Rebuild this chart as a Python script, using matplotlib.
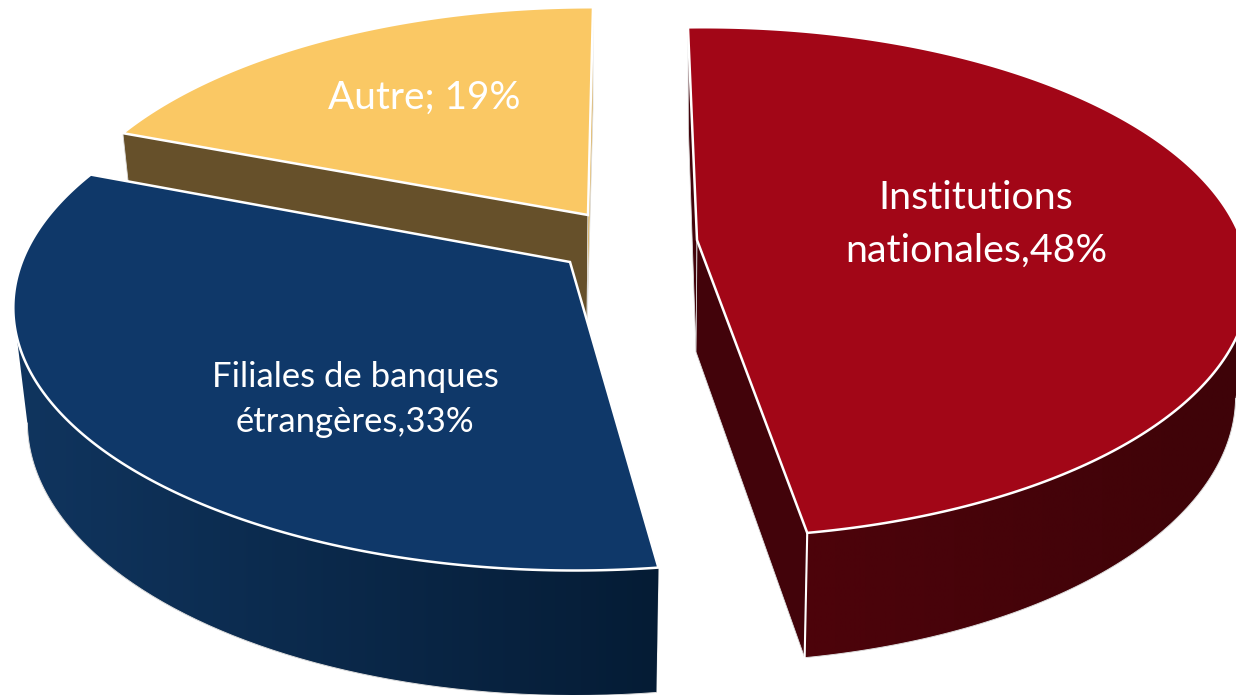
import numpy as np
import matplotlib
matplotlib.use("Agg")
import matplotlib.pyplot as plt
from matplotlib.patches import Polygon
from matplotlib.colors import to_rgb

# Data
categories = ["Institutions nationales", "Filiales de banques étrangères", "Autre"]
values = [48, 33, 19]
labels = ["Institutions\nnationales,48%", "Filiales de banques\nétrangères,33%", "Autre; 19%"]

# Style, one entry per slice
top_colors = ["#a20617", "#0f3869", "#fac864"]
cut_start = ["#42030a", "#0c2c50", "#66502a"]
cut_end = ["#42030a", "#0c2c50", "#e0b050"]
side_left = ["#4d030b", "#10355f", "#66502a"]
side_right = ["#3e0308", "#051c35", "#66502a"]
centers = [(697, 240), (570, 262), (588, 215)]
rim_shift = [(7, -1), (5, 1), (5, 4)]
scales = [0.995, 1.025, 0.995]
rotations = [-2.0, 0.0, 0.0]
label_pos = [(976, 224.5), (355, 399.5), (424, 98)]
label_size = [28.4, 24.9, 27.9]
label_gap = [1.57, 1.52, 1.2]

# Projection of the tilted pie
RX = 540
RY = 249
PERSP = 0.17
DEPTH = 112
PERSP_D = 0.104
SHRINK = 0.975


def project(cx, cy, ang, s, z=0):
    # ang in degrees, clockwise from the back of the pie
    a = np.radians(ang)
    px = np.sin(a)
    py = np.cos(a)
    w = 1 + PERSP * py
    dx = s * RX * px / w
    dy = -s * RY * py / w
    if z:
        dx = dx * SHRINK
        dy = dy + DEPTH / (1 + PERSP_D * py)
    return cx + dx, cy + dy


fig = plt.figure(figsize=(12.36, 6.95), dpi=100)
ax = fig.add_axes([0, 0, 1, 1])

# start angle of each slice from the values
fracs = np.array(values) / sum(values) * 360
starts = np.concatenate([[0], np.cumsum(fracs)[:-1]])

# back to front: Autre, Filiales, Institutions
for i in [2, 1, 0]:
    vx, vy = centers[i]
    cx = vx + rim_shift[i][0]
    cy = vy + rim_shift[i][1]
    a0 = starts[i] + rotations[i]
    a1 = a0 + fracs[i]
    angs = np.linspace(a0, a1, 241)
    s = scales[i]
    x_top, y_top = project(cx, cy, angs, s)
    x_low, y_low = project(cx, cy, angs, s, z=1)
    lx, ly = vx - 1, vy + DEPTH
    base = i * -10

    # cut faces
    pts = [(vx, vy), (x_top[0], y_top[0]), (x_low[0], y_low[0]), (lx, ly)]
    ax.add_patch(Polygon(pts, closed=True, facecolor=cut_start[i], edgecolor="#dddddd",
                         linewidth=0.6, zorder=base + 1))
    pts = [(vx, vy), (x_top[-1], y_top[-1]), (x_low[-1], y_low[-1]), (lx, ly)]
    ax.add_patch(Polygon(pts, closed=True, facecolor=cut_end[i], edgecolor="#dddddd",
                         linewidth=0.6, zorder=base + 1))

    # outer wall, only the part that faces the viewer
    front = np.cos(np.radians(angs)) <= -PERSP
    if front.any():
        pts = list(zip(x_top[front], y_top[front])) + list(zip(x_low[front][::-1], y_low[front][::-1]))
        wall = Polygon(pts, closed=True, facecolor="none", edgecolor="none", zorder=base + 2)
        ax.add_patch(wall)
        t = np.linspace(0, 1, 256)[:, None]
        grad = np.array(to_rgb(side_left[i])) * (1 - t) + np.array(to_rgb(side_right[i])) * t
        x0 = min(x_top[front].min(), x_low[front].min())
        x1 = max(x_top[front].max(), x_low[front].max())
        y0 = y_top[front].min()
        y1 = y_low[front].max()
        im = ax.imshow(grad[None, :, :], extent=(x0, x1, y1, y0), aspect="auto",
                       interpolation="bilinear", zorder=base + 2)
        im.set_clip_path(wall)
        ax.plot(x_low[front], y_low[front], color="#dddddd", linewidth=0.7, zorder=base + 2)

    # white edge at the near corner of the wall
    if i == 0:
        ax.plot([x_top[-1], x_low[-1]], [y_top[-1], y_low[-1]], color="white", linewidth=1.5,
                zorder=base + 3)

    # top face
    pts = [(vx, vy)] + list(zip(x_top, y_top))
    ax.add_patch(Polygon(pts, closed=True, facecolor=top_colors[i], edgecolor="white",
                         linewidth=1.8, joinstyle="miter", zorder=base + 4))

ax.set_xlim(0, 1236)
ax.set_ylim(695, 0)
ax.axis("off")

for i in range(len(values)):
    ax.text(label_pos[i][0], label_pos[i][1], labels[i], color="white", fontsize=label_size[i],
            family="Lato", ha="center", va="center", linespacing=label_gap[i], zorder=20)

fig.savefig("out.png", dpi=100, facecolor="white")
